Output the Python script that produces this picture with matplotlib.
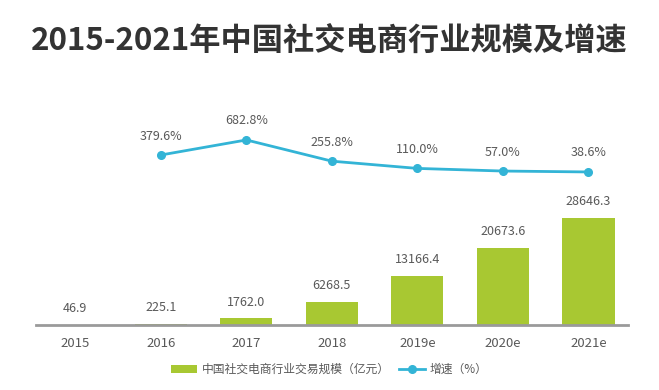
import matplotlib.pyplot as plt

plt.rcParams['font.family'] = ['Noto Sans CJK SC', 'DejaVu Sans']

years = ['2015', '2016', '2017', '2018', '2019e', '2020e', '2021e']
scale = [46.9, 225.1, 1762.0, 6268.5, 13166.4, 20673.6, 28646.3]
growth_years = [1, 2, 3, 4, 5, 6]
growth = [379.6, 682.8, 255.8, 110.0, 57.0, 38.6]

bar_color = '#a8c832'
line_color = '#33b4d6'
text_color = '#595959'

fig = plt.figure(figsize=(6.59, 3.9), dpi=100)
ax = fig.add_axes([0.0546, 0.1667, 0.898, 0.577])
x = list(range(len(years)))
bars = ax.bar(x, scale, width=0.61, color=bar_color, zorder=2)
for xi, v in zip(x, scale):
    ax.annotate(f'{v:.1f}', (xi, v), xytext=(0, 7), textcoords='offset points',
                ha='center', va='bottom', fontsize=9, color=text_color)
ax.set_xlim(-0.46, 6.46)
ax.set_ylim(0, 60236)
ax.set_xticks(x)
ax.set_xticklabels(years, fontsize=9.5, color=text_color)
ax.tick_params(axis='x', length=0, pad=9)
ax.set_yticks([])
for s in ['top', 'right', 'left']:
    ax.spines[s].set_visible(False)
ax.spines['bottom'].set_color('#9a9a9a')
ax.spines['bottom'].set_linewidth(2)

ax2 = ax.twinx()
ax2.plot(growth_years, growth, color=line_color, lw=2, marker='o', ms=5.5, zorder=3)
for xi, v in zip(growth_years, growth):
    ax2.annotate(f'{v:.1f}%', (xi, v), xytext=(0, 9), textcoords='offset points',
                 ha='center', va='bottom', fontsize=9, color=text_color)
ax2.set_ylim(-3042, 1488)
ax2.set_yticks([])
for s in ['top', 'right', 'left', 'bottom']:
    ax2.spines[s].set_visible(False)

fig.text(0.5, 0.895, '2015-2021年中国社交电商行业规模及增速', ha='center', va='center',
         fontsize=22.5, fontweight='bold', color='#333333')

fig.legend([bars, ax2.lines[0]], ['中国社交电商行业交易规模（亿元）', '增速（%）'],
           loc='center', bbox_to_anchor=(0.5, 0.052), ncol=2, frameon=False,
           fontsize=8.5, labelcolor=text_color, handlelength=2.2, columnspacing=0.8,
           handletextpad=0.4)

fig.savefig('out.png', dpi=100, facecolor='white')
